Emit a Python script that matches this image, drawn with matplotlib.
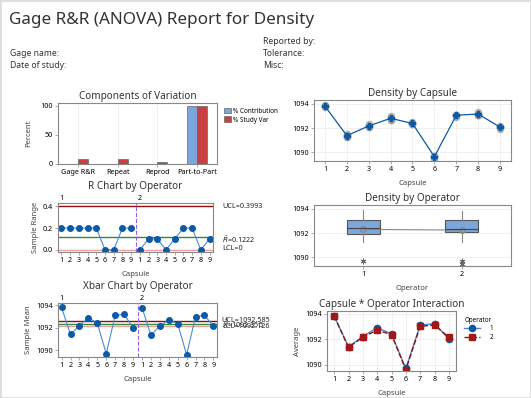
import numpy as np
import matplotlib
matplotlib.use("Agg")
import matplotlib.pyplot as plt
from matplotlib.patches import Rectangle

plt.rcParams['font.family'] = ['Noto Sans', 'DejaVu Sans']
plt.rcParams['mathtext.fontset'] = 'dejavusans'

# ---- data ----
capsulas = [1, 2, 3, 4, 5, 6, 7, 8, 9]
# two trials per operator and capsule
op1_t1 = [1093.7, 1091.3, 1092.1, 1092.8, 1092.3, 1089.7, 1093.1, 1093.1, 1091.9]
op1_t2 = [1093.9, 1091.5, 1092.3, 1093.0, 1092.5, 1089.7, 1093.1, 1093.3, 1092.1]
op2_t1 = [1093.8, 1091.3, 1092.1, 1092.7, 1092.3, 1089.5, 1092.9, 1093.1, 1092.1]
op2_t2 = [1093.8, 1091.4, 1092.2, 1092.7, 1092.4, 1089.7, 1093.1, 1093.1, 1092.2]

componentes = ["Gage R&R", "Repeat", "Reprod", "Part-to-Part"]
pct_contrib = [0.6, 0.6, 0.1, 99.4]
pct_studyvar = [8.0, 7.9, 2.6, 99.7]

ucl_r, rbar, lcl_r = 0.3993, 0.1222, 0.0
ucl_x, xbarbar, lcl_x = 1092.585, 1092.355, 1092.126

azul = "#0A5AA8"
azul_claro = "#4C8AD0"
rojo_osc = "#8C1010"
verde = "#2E8B3A"
rojo_cl = "#E8A0A0"
gris = "#888888"

W, H = 531, 398
fig = plt.figure(figsize=(W / 100, H / 100), dpi=100)
fig.patches.append(Rectangle((0, 0), 1, 1, transform=fig.transFigure,
                             fill=False, edgecolor="#DDDDDD", linewidth=2))


def ejes(l, t, r, b):
    ax = fig.add_axes([l / W, 1 - b / H, (r - l) / W, (b - t) / H])
    for s in ax.spines.values():
        s.set_color(gris)
        s.set_linewidth(0.8)
    ax.tick_params(labelsize=5.2, length=2, width=0.5, color=gris, pad=1.5)
    return ax


def titulo(ax, txt, pad=3):
    ax.set_title(txt, fontsize=7.2, color="#333333", pad=pad)


# ---- header ----
fig.text(9 / W, 1 - 20 / H, "Gage R&R (ANOVA) Report for Density", fontsize=12.3,
         color="#333333", va="center", ha="left")
hdr = dict(fontsize=6.2, color="#333333", va="center", ha="left")
fig.text(10 / W, 1 - 54 / H, "Gage name:", **hdr)
fig.text(10 / W, 1 - 66 / H, "Date of study:", **hdr)
fig.text(263 / W, 1 - 42 / H, "Reported by:", **hdr)
fig.text(263 / W, 1 - 54 / H, "Tolerance:", **hdr)
fig.text(263 / W, 1 - 66 / H, "Misc:", **hdr)

# ---- Components of Variation ----
ax = ejes(58, 103, 217, 164)
x = np.arange(len(componentes))
w = 0.25
ax.bar(x - w / 2, pct_contrib, width=w, color="#7BA7DC", edgecolor="#666666", linewidth=0.5, label="% Contribution")
ax.bar(x + w / 2, pct_studyvar, width=w, color="#C84040", edgecolor="#666666", linewidth=0.5, label="% Study Var")
ax.set_xticks(x, componentes)
ax.set_yticks([0, 50, 100])
ax.set_ylim(0, 105)
ax.set_xlim(-0.5, 3.5)
ax.grid(axis="x", color="#EEEEEE", linewidth=0.6)
ax.set_axisbelow(True)
ax.set_ylabel("Percent", fontsize=5.5, color="#444444", labelpad=6)
titulo(ax, "Components of Variation")
ax.legend(loc="upper left", bbox_to_anchor=(1.01, 1.02), fontsize=4.6, frameon=False,
          handlelength=1.0, handleheight=1.0, handletextpad=0.4, labelspacing=0.3)

# ---- R chart ----
r1 = [abs(a - b) for a, b in zip(op1_t1, op1_t2)]
r2 = [abs(a - b) for a, b in zip(op2_t1, op2_t2)]
rango = r1 + r2
pos = np.arange(1, 19)
etq = [str(c) for c in capsulas] * 2

ax = ejes(58, 203, 213, 252)
ax.axhline(ucl_r, color=rojo_osc, linewidth=1)
ax.axhline(rbar, color=verde, linewidth=1)
ax.axhline(lcl_r, color=rojo_cl, linewidth=1)
ax.plot(pos[:9], rango[:9], color=azul_claro, linewidth=0.8, marker="o", markersize=4,
        markerfacecolor=azul, markeredgecolor=azul)
ax.plot(pos[9:], rango[9:], color=azul_claro, linewidth=0.8, marker="o", markersize=4,
        markerfacecolor=azul, markeredgecolor=azul)
ax.axvline(9.5, color="#9A5CE0", linestyle="--", linewidth=0.8)
ax.set_xlim(0.6, 18.4)
ax.set_ylim(-0.02, 0.43)
ax.set_yticks([0.0, 0.2, 0.4])
ax.set_yticklabels(["0.0", "0.2", "0.4"])
ax.set_xticks(pos, etq)
ax.set_xlabel("Capsule", fontsize=5.5, color="#444444", labelpad=5)
ax.set_ylabel("Sample Range", fontsize=5.5, color="#444444", labelpad=3)
titulo(ax, "R Chart by Operator", pad=10)
ax.text(1, 1.02, "1", transform=ax.get_xaxis_transform(), fontsize=5.2, ha="center", va="bottom")
ax.text(10, 1.02, "2", transform=ax.get_xaxis_transform(), fontsize=5.2, ha="center", va="bottom")
lab = dict(fontsize=5.2, ha="left", va="center", color="#222222", clip_on=False)
ax.text(1.06, ucl_r, f"UCL={ucl_r}", transform=ax.get_yaxis_transform(), **lab)
ax.text(1.06, rbar - 0.03, r"$\bar{R}$" + f"={rbar}", transform=ax.get_yaxis_transform(), **lab)
ax.text(1.06, lcl_r + 0.01, "LCL=0", transform=ax.get_yaxis_transform(), **lab)

# ---- Xbar chart ----
m1 = [(a + b) / 2 for a, b in zip(op1_t1, op1_t2)]
m2 = [(a + b) / 2 for a, b in zip(op2_t1, op2_t2)]
medias = m1 + m2

ax = ejes(58, 303, 217, 357)
ax.axhline(ucl_x, color=rojo_osc, linewidth=1)
ax.axhline(xbarbar, color=verde, linewidth=1)
ax.axhline(lcl_x, color=rojo_cl, linewidth=1)
ax.plot(pos[:9], medias[:9], color=azul_claro, linewidth=0.8, marker="o", markersize=4,
        markerfacecolor=azul, markeredgecolor=azul)
ax.plot(pos[9:], medias[9:], color=azul_claro, linewidth=0.8, marker="o", markersize=4,
        markerfacecolor=azul, markeredgecolor=azul)
ax.axvline(9.5, color="#9A5CE0", linestyle="--", linewidth=0.8)
ax.set_xlim(0.6, 18.4)
ax.set_ylim(1089.4, 1094.2)
ax.set_yticks([1090, 1092, 1094])
ax.set_xticks(pos, etq)
ax.set_xlabel("Capsule", fontsize=5.5, color="#444444", labelpad=5)
ax.set_ylabel("Sample Mean", fontsize=5.5, color="#444444", labelpad=3)
titulo(ax, "Xbar Chart by Operator", pad=10)
ax.text(1, 1.02, "1", transform=ax.get_xaxis_transform(), fontsize=5.2, ha="center", va="bottom")
ax.text(10, 1.02, "2", transform=ax.get_xaxis_transform(), fontsize=5.2, ha="center", va="bottom")
ax.text(1.03, ucl_x + 0.1, f"UCL={ucl_x}", transform=ax.get_yaxis_transform(), **lab)
ax.text(1.03, xbarbar, r"$\bar{\bar{X}}$" + f"={xbarbar}", transform=ax.get_yaxis_transform(), **lab)
ax.text(1.03, lcl_x - 0.05, f"LCL={lcl_x}", transform=ax.get_yaxis_transform(), **lab)

# ---- Density by Capsule ----
todos = np.array([op1_t1, op1_t2, op2_t1, op2_t2])
ax = ejes(314, 100, 511, 161)
for fila in todos:
    ax.plot(capsulas, fila, linestyle="none", marker="o", markersize=4.5,
            color="#999999", alpha=0.6)
ax.plot(capsulas, todos.mean(axis=0), color=azul, linewidth=0.9, marker="P", markersize=4)
ax.set_xlim(0.5, 9.5)
ax.set_ylim(1089.3, 1094.3)
ax.set_yticks([1090, 1092, 1094])
ax.set_xticks(capsulas)
ax.grid(color="#EEEEEE", linewidth=0.6)
ax.set_axisbelow(True)
ax.set_xlabel("Capsule", fontsize=5.5, color="#444444", labelpad=5)
titulo(ax, "Density by Capsule")

# ---- Density by Operator ----
d1 = op1_t1 + op1_t2
d2 = op2_t1 + op2_t2
ax = ejes(314, 205, 511, 266)
ax.boxplot([d1, d2], positions=[1, 2], widths=0.33, patch_artist=True,
           boxprops=dict(facecolor="#7BA7DC", edgecolor="#555555", linewidth=0.8),
           medianprops=dict(color="#444444", linewidth=0.8),
           whiskerprops=dict(color="#888888", linewidth=0.8),
           capprops=dict(linewidth=0),
           flierprops=dict(marker=(6, 2, 0), markersize=4, markeredgecolor="#666666", markeredgewidth=0.6))
ax.plot([1, 2], [np.mean(d1), np.mean(d2)], color="#888888", linewidth=0.8, marker="o",
        markersize=4, markerfacecolor="none", markeredgecolor="#888888")
ax.set_xlim(0.5, 2.5)
ax.set_ylim(1089.3, 1094.3)
ax.set_yticks([1090, 1092, 1094])
ax.set_xticks([1, 2], ["1", "2"])
ax.grid(axis="y", color="#EEEEEE", linewidth=0.6)
ax.set_axisbelow(True)
ax.set_xlabel("Operator", fontsize=5.5, color="#444444", labelpad=5)
titulo(ax, "Density by Operator")

# ---- Capsule * Operator Interaction ----
ax = ejes(327, 311, 456, 371)
ax.plot(capsulas, m1, color=azul_claro, linewidth=1.0, marker="o", markersize=4.5,
        markerfacecolor=azul, markeredgecolor=azul, label="1")
ax.plot(capsulas, m2, color=rojo_osc, linewidth=1.0, linestyle="--", marker="s", markersize=4.5,
        markerfacecolor="#A01818", markeredgecolor="#A01818", label="2")
ax.set_xlim(0.5, 9.5)
ax.set_ylim(1089.5, 1094.2)
ax.set_yticks([1090, 1092, 1094])
ax.set_xticks(capsulas)
ax.grid(color="#EEEEEE", linewidth=0.6)
ax.set_axisbelow(True)
ax.set_xlabel("Capsule", fontsize=5.5, color="#444444", labelpad=5)
ax.set_ylabel("Average", fontsize=5.5, color="#444444", labelpad=3)
titulo(ax, "Capsule * Operator Interaction")
ax.legend(title="Operator", loc="upper left", bbox_to_anchor=(1.02, 1.0), fontsize=4.5,
          title_fontsize=4.5, frameon=False, handlelength=2.5, handletextpad=1.5,
          labelspacing=0.3)

fig.savefig("out.png", dpi=100)
